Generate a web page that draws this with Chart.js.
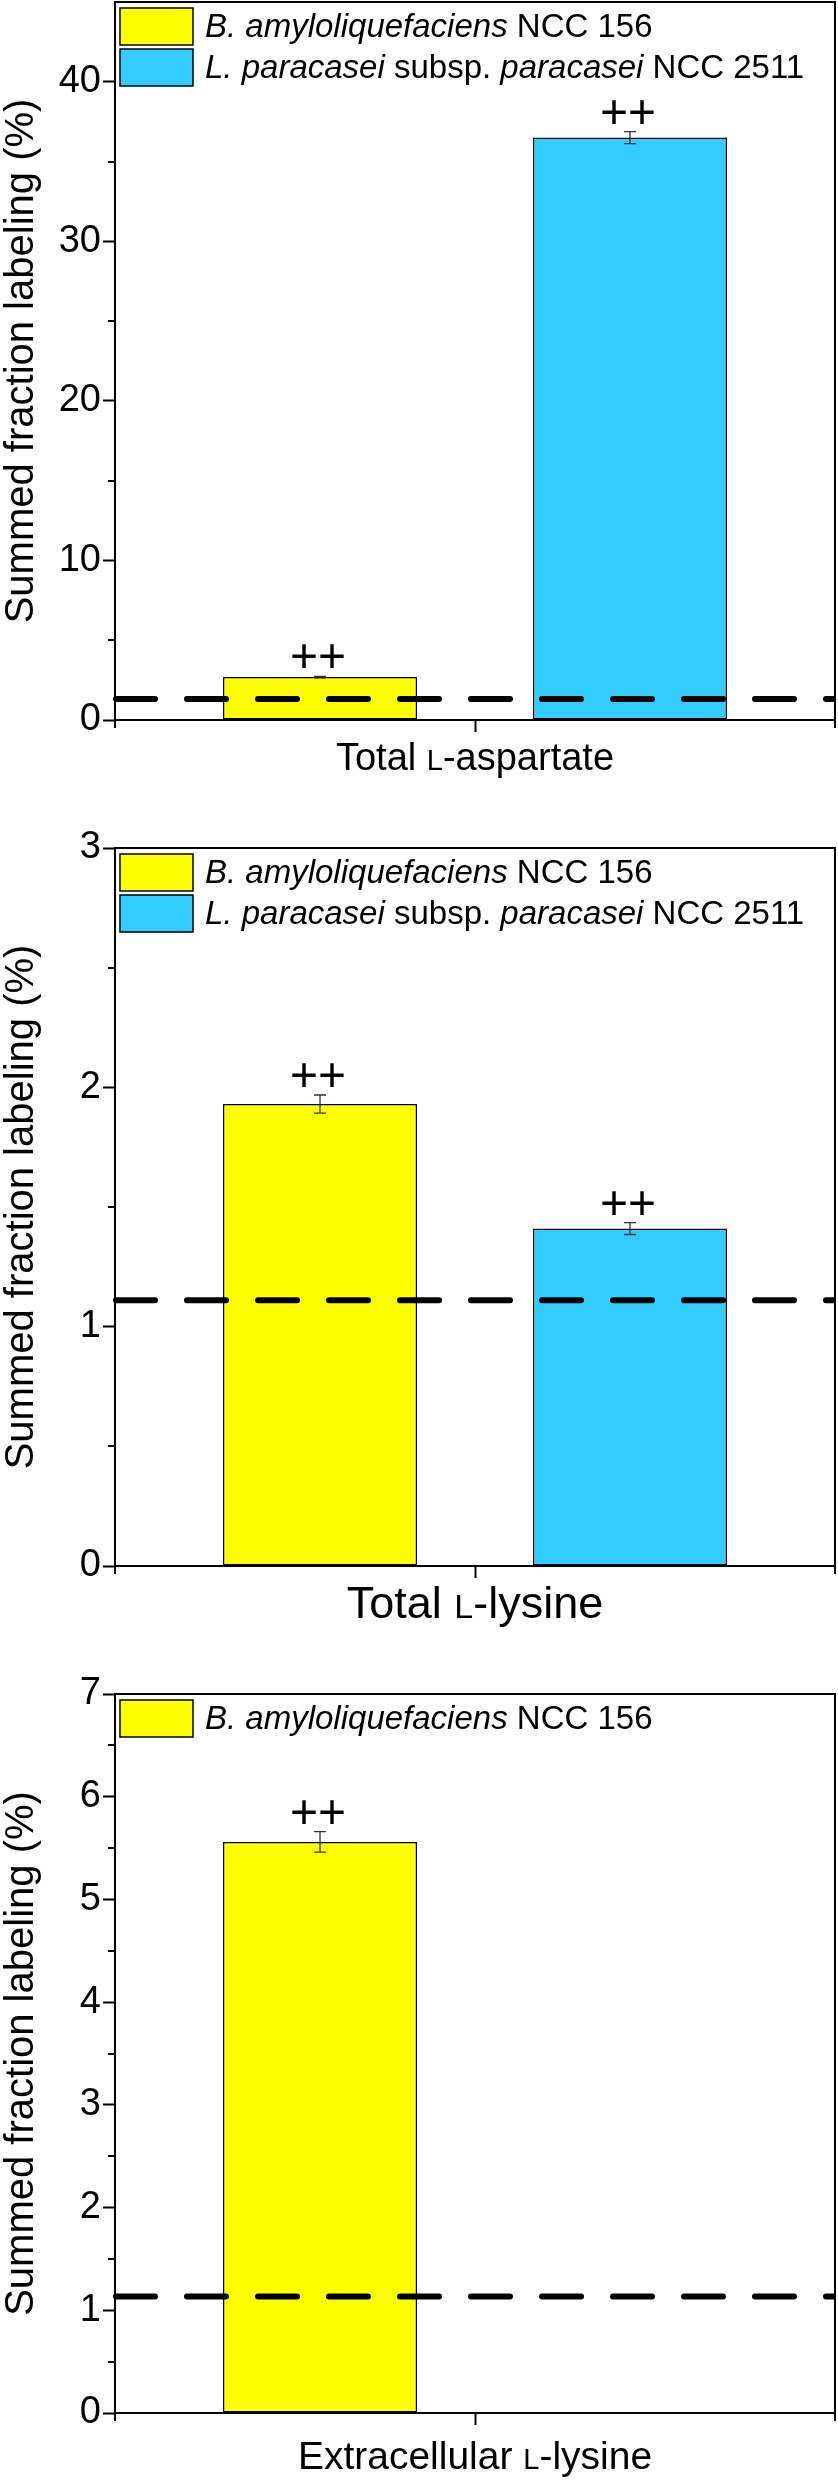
<!DOCTYPE html>
<html><head><meta charset="utf-8">
<script src="https://cdn.jsdelivr.net/npm/chart.js@4.4.0/dist/chart.umd.min.js"></script>
<style>
html,body{margin:0;padding:0;background:#fff;}
#wrap{position:relative;width:838px;height:2480px;overflow:hidden;}
canvas{position:absolute;left:0;}
</style></head><body>
<div id="wrap">
<canvas id="c1" width="838" height="780" style="top:0px"></canvas>
<canvas id="c2" width="838" height="860" style="top:780px"></canvas>
<canvas id="c3" width="838" height="840" style="top:1640px"></canvas>
</div>
<script>
// ---------- DATA ----------
const seriesNames = ['*B. amyloliquefaciens* NCC 156', '*L. paracasei* subsp. *paracasei* NCC 2511'];
const seriesColors = ['#FFFF00', '#33CCFF'];
const yTitle = 'Summed fraction labeling (%)';

// Panel 1: Total L-aspartate
const aspCategories = ['Total L-aspartate'];
const aspBaci = [2.69];   const aspBaciErr = [0.05];  const aspBaciMark = ['++'];
const aspLacto = [36.5];  const aspLactoErr = [0.37]; const aspLactoMark = ['++'];
const aspNatural = 1.32;
const aspYTicks = [0, 10, 20, 30, 40];

// Panel 2: Total L-lysine
const lysCategories = ['Total L-lysine'];
const lysBaci = [1.93];   const lysBaciErr = [0.038]; const lysBaciMark = ['++'];
const lysLacto = [1.41];  const lysLactoErr = [0.025]; const lysLactoMark = ['++'];
const lysNatural = 1.11;
const lysYTicks = [0, 1, 2, 3];

// Panel 3: Extracellular L-lysine
const extCategories = ['Extracellular L-lysine'];
const extBaci = [5.56];   const extBaciErr = [0.10];  const extBaciMark = ['++'];
const extNatural = 1.135;
const extYTicks = [0, 1, 2, 3, 4, 5, 6, 7];

// ---------- HELPERS ----------
const FAM = '"Liberation Sans", Arial, Helvetica, sans-serif';
function fontStr(size, italic, bold) {
  return (italic ? 'italic ' : '') + (bold ? 'bold ' : '') + size + 'px ' + FAM;
}
// parse *italic* markup and small-cap "L-" prefix into runs
function toRuns(text, size) {
  const runs = [];
  text.split('*').forEach((seg, i) => {
    if (!seg) return;
    const italic = i % 2 === 1;
    const re = /(^|\s)L-/g;
    let last = 0, m;
    while ((m = re.exec(seg)) !== null) {
      const lPos = m.index + m[1].length;
      if (lPos > last) runs.push({t: seg.slice(last, lPos), size, italic});
      runs.push({t: 'L', size: Math.round(size * 0.75), italic});
      last = lPos + 1;
    }
    if (last < seg.length) runs.push({t: seg.slice(last), size, italic});
  });
  return runs;
}
function drawRuns(ctx, runs, x, y, align, baseline) {
  ctx.textAlign = 'left';
  ctx.textBaseline = baseline;
  let total = 0;
  runs.forEach(r => { ctx.font = fontStr(r.size, r.italic); r.w = ctx.measureText(r.t).width; total += r.w; });
  let cx = align === 'center' ? x - total / 2 : x;
  runs.forEach(r => { ctx.font = fontStr(r.size, r.italic); ctx.fillText(r.t, cx, y); cx += r.w; });
}

const overlay = {
  id: 'overlay',
  afterDatasetsDraw(chart, args, opts) {
    const ctx = chart.ctx, ca = chart.chartArea;
    const ys = chart.scales.y, xs = chart.scales.x;
    ctx.save();
    // dashed reference line (natural abundance)
    const yl = ys.getPixelForValue(opts.natural);
    ctx.save();
    ctx.beginPath();
    ctx.rect(ca.left - 4, ca.top, ca.right - ca.left + 3, ca.bottom - ca.top);
    ctx.clip();
    ctx.beginPath();
    ctx.setLineDash([39, 32]);
    ctx.lineDashOffset = 0;
    ctx.lineCap = 'round';
    ctx.lineWidth = 6;
    ctx.strokeStyle = '#000';
    ctx.moveTo(ca.left + 1, yl);
    ctx.lineTo(ca.right + 10, yl);
    ctx.stroke();
    ctx.restore();
    ctx.setLineDash([]);
    ctx.lineCap = 'butt';
    // error bars + significance marks
    chart.data.datasets.forEach((ds, di) => {
      const meta = chart.getDatasetMeta(di);
      meta.data.forEach((bar, i) => {
        const v = ds.data[i];
        if (v === null || v === undefined) return;
        const e = ds.errors ? ds.errors[i] : 0;
        const yt = ys.getPixelForValue(v + e), yb = ys.getPixelForValue(v - e);
        const cx = bar.x;
        ctx.strokeStyle = '#333';
        ctx.lineWidth = 1.3;
        ctx.beginPath();
        ctx.moveTo(cx, yt); ctx.lineTo(cx, yb);
        ctx.moveTo(cx - 6, yt); ctx.lineTo(cx + 6, yt);
        ctx.moveTo(cx - 6, yb); ctx.lineTo(cx + 6, yb);
        ctx.stroke();
        if (ds.marks && ds.marks[i]) {
          ctx.fillStyle = '#000';
          ctx.font = fontStr(48, false, false);
          ctx.textAlign = 'center';
          ctx.textBaseline = 'alphabetic';
          ctx.fillText(ds.marks[i], cx - 2, yt - 4);
        }
      });
    });
    // frame (top + right)
    ctx.strokeStyle = '#000';
    ctx.lineWidth = 2;
    ctx.beginPath();
    ctx.moveTo(ca.left, ca.top); ctx.lineTo(ca.right, ca.top); ctx.lineTo(ca.right, ca.bottom);
    ctx.stroke();
    // minor y ticks
    ctx.lineWidth = 2;
    ctx.beginPath();
    for (let v = opts.minor; v < ys.max - 1e-9; v += opts.minor) {
      if (Math.abs(v / opts.major - Math.round(v / opts.major)) < 1e-6) continue;
      const py = Math.round(ys.getPixelForValue(v));
      ctx.moveTo(ca.left, py); ctx.lineTo(ca.left - 7, py);
    }
    // x axis edge ticks
    ctx.moveTo(ca.left, ca.bottom); ctx.lineTo(ca.left, ca.bottom + 8);
    ctx.moveTo(ca.right, ca.bottom); ctx.lineTo(ca.right, ca.bottom + 8);
    ctx.stroke();
    // legend
    const boxW = 73, boxH = 37, lx = ca.left + 5;
    opts.legend.forEach((k, idx) => {
      const ds = chart.data.datasets[k];
      const top = ca.top + 6 + idx * 41;
      ctx.fillStyle = ds.backgroundColor;
      ctx.fillRect(lx, top, boxW, boxH);
      ctx.lineWidth = 1.5;
      ctx.strokeStyle = '#000';
      ctx.strokeRect(lx, top, boxW, boxH);
      ctx.fillStyle = '#000';
      drawRuns(ctx, toRuns(ds.rich, 33), lx + boxW + 12, top + boxH / 2 + 1, 'left', 'middle');
    });
    // category label (x title) with small-cap L
    ctx.fillStyle = '#000';
    const label = chart.data.labels[0];
    drawRuns(ctx, toRuns(label, opts.xSize), xs.getPixelForValue(0), ca.bottom + opts.xBase, 'center', 'alphabetic');
    ctx.restore();
  }
};

function makeChart(id, labels, sets, cfg) {
  const canvas = document.getElementById(id);
  const H = canvas.height;
  const datasets = sets.map(s => ({
    label: s.name.replace(/\*/g, ''),
    rich: s.name,
    data: s.values,
    errors: s.errors,
    marks: s.marks,
    backgroundColor: s.color,
    borderColor: '#000',
    borderWidth: 1.5,
    borderSkipped: false,
    categoryPercentage: 0.861,
    barPercentage: 0.626
  }));
  return new Chart(canvas, {
    type: 'bar',
    data: {labels, datasets},
    options: {
      responsive: false,
      animation: false,
      devicePixelRatio: 1,
      layout: {padding: {top: cfg.top, right: 3, left: 0, bottom: 0}},
      plugins: {
        legend: {display: false},
        tooltip: {enabled: false},
        overlay: {natural: cfg.natural, major: cfg.major, minor: cfg.minor, legend: cfg.legend, xSize: cfg.xSize, xBase: cfg.xBase}
      },
      scales: {
        x: {
          type: 'category',
          offset: true,
          grid: {display: true, offset: false, drawOnChartArea: false, drawTicks: true, tickLength: 12, tickWidth: 2, tickColor: '#000'},
          border: {display: true, width: 2, color: '#000'},
          ticks: {display: false},
          afterFit(s) { s.height = H - cfg.bottom; s.paddingLeft = 0; s.paddingRight = 0; }
        },
        y: {
          type: 'linear',
          min: 0,
          max: cfg.max,
          afterBuildTicks(s) { s.ticks = cfg.ticks.map(v => ({value: v})); },
          ticks: {
            includeBounds: false,
            padding: 2,
            color: '#000',
            font: {family: FAM, size: 38},
            callback: v => String(v)
          },
          grid: {display: true, drawOnChartArea: false, drawTicks: true, tickLength: 12, tickWidth: 2, tickColor: '#000'},
          border: {display: true, width: 2, color: '#000'},
          title: {display: true, text: yTitle, color: '#000', font: {family: FAM, size: 40, lineHeight: 1.1}, padding: 0},
          afterFit(s) { s.width = 115; s.paddingTop = 0; s.paddingBottom = 0; }
        }
      }
    },
    plugins: [overlay]
  });
}

makeChart('c1', aspCategories, [
  {name: seriesNames[0], color: seriesColors[0], values: aspBaci, errors: aspBaciErr, marks: aspBaciMark},
  {name: seriesNames[1], color: seriesColors[1], values: aspLacto, errors: aspLactoErr, marks: aspLactoMark}
], {top: 2, bottom: 720, max: 45, ticks: aspYTicks, major: 10, minor: 5, natural: aspNatural, legend: [0, 1], xSize: 38, xBase: 50});

makeChart('c2', lysCategories, [
  {name: seriesNames[0], color: seriesColors[0], values: lysBaci, errors: lysBaciErr, marks: lysBaciMark},
  {name: seriesNames[1], color: seriesColors[1], values: lysLacto, errors: lysLactoErr, marks: lysLactoMark}
], {top: 68, bottom: 786, max: 3, ticks: lysYTicks, major: 1, minor: 0.5, natural: lysNatural, legend: [0, 1], xSize: 45, xBase: 52});

makeChart('c3', extCategories, [
  {name: seriesNames[0], color: seriesColors[0], values: extBaci, errors: extBaciErr, marks: extBaciMark},
  {name: seriesNames[1], color: seriesColors[1], values: [null], errors: [0], marks: []}
], {top: 54, bottom: 773, max: 7, ticks: extYTicks, major: 1, minor: 0.5, natural: extNatural, legend: [0], xSize: 39, xBase: 56});
</script>
</body></html>
